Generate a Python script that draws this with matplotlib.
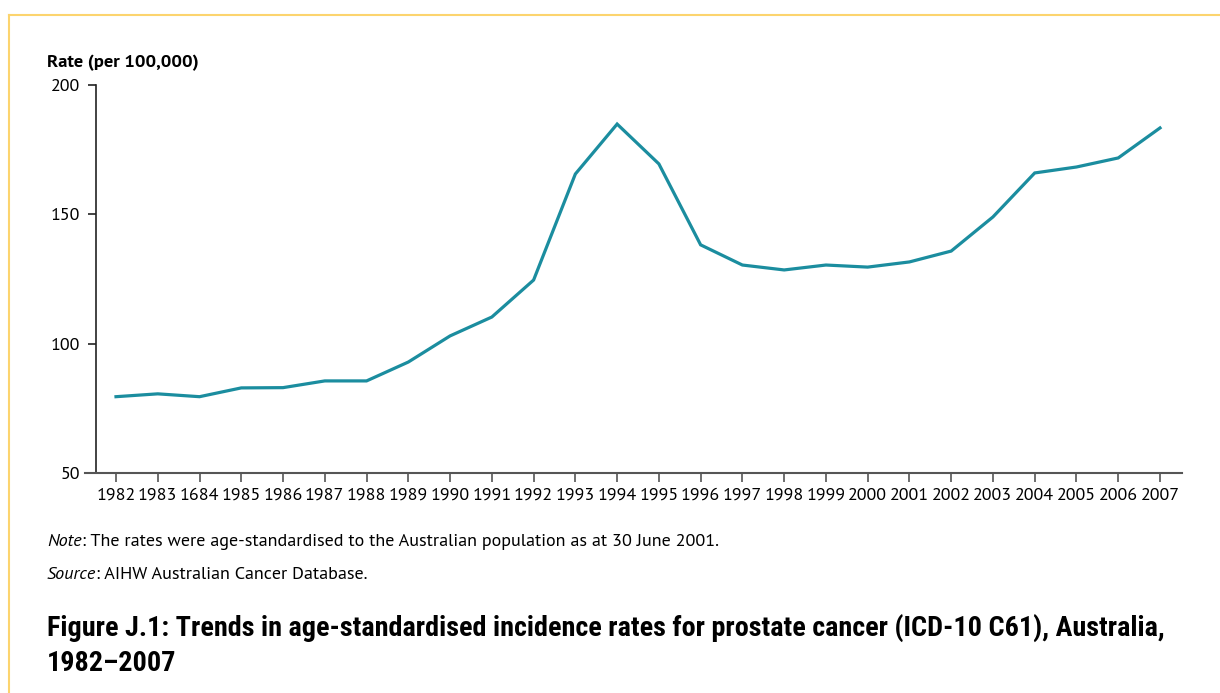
import matplotlib.pyplot as plt
from matplotlib.lines import Line2D

years = list(range(1982, 2008))
year_labels = ['1982', '1983', '1684', '1985', '1986', '1987', '1988', '1989', '1990',
               '1991', '1992', '1993', '1994', '1995', '1996', '1997', '1998', '1999',
               '2000', '2001', '2002', '2003', '2004', '2005', '2006', '2007']
rate = [79.5, 80.6, 79.5, 82.9, 83.0, 85.6, 85.6, 92.9, 103.0, 110.3, 124.6, 165.6, 184.9,
        169.5, 138.2, 130.4, 128.5, 130.4, 129.6, 131.6, 135.8, 149.0, 166.0, 168.3, 171.8, 183.4]
y_ticks = [50, 100, 150, 200]

note_txt = ': The rates were age-standardised to the Australian population as at 30 June 2001.'
source_txt = ': AIHW Australian Cancer Database.'
title_1 = ('Figure J.1: Trends in age-standardised incidence rates for prostate cancer '
           '(ICD-10 C61), Australia,')
title_2 = '1982\u20132007'

body = ['PT Sans', 'Open Sans', 'DejaVu Sans']
head = ['Roboto Condensed', 'Roboto', 'DejaVu Sans']
plt.rcParams['font.family'] = body

W, H = 1220, 693
fig = plt.figure(figsize=(W / 100, H / 100), dpi=100)

# yellow frame (top and left)
fig.add_artist(Line2D([9 / W, 1.0], [1 - 15 / H, 1 - 15 / H], color='#fcd46e', lw=1.5))
fig.add_artist(Line2D([9 / W, 9 / W], [0, 1 - 15 / H], color='#fcd46e', lw=1.5))

ax = fig.add_axes([85 / W, 1 - 473 / H, (1182 - 85) / W, (473 - 85) / H])
ax.plot(years, rate, color='#1b8d9f', lw=2.3, solid_joinstyle='miter')

step = (1160 - 116) / 25
ax.set_xlim(1982 - (116 - 85) / step, 2007 + (1182 - 1160) / step)
ax.set_ylim(50, 200)
ax.set_xticks(years)
ax.set_xticklabels(year_labels)
ax.set_yticks(y_ticks)

for s in ['top', 'right']:
    ax.spines[s].set_visible(False)
ax.spines['left'].set_position(('data', 1982 - (116 - 96) / step))
ax.spines['left'].set_color('#222222')
ax.spines['bottom'].set_color('#555555')
ax.spines['left'].set_linewidth(1.2)
ax.spines['bottom'].set_linewidth(1.5)
ax.tick_params(axis='x', length=6.5, width=1.2, color='#555555', labelsize=13, pad=4)
ax.tick_params(axis='y', length=6, width=1.2, color='#222222', labelsize=13, pad=5.5)

fig.text(47 / W, 1 - 67 / H, 'Rate (per 100,000)', fontsize=13.3, fontweight='bold',
         va='baseline', ha='left')

t1 = fig.text(47 / W, 1 - 546 / H, 'Note', fontsize=12, style='italic', va='baseline')
a1 = ax.annotate(note_txt, xy=(1, 0), xycoords=t1, fontsize=12, va='bottom',
                 annotation_clip=False)
t2 = fig.text(47 / W, 1 - 579 / H, 'Source', fontsize=12, style='italic', va='baseline')
a2 = ax.annotate(source_txt, xy=(1, 0), xycoords=t2, fontsize=12, va='bottom',
                 annotation_clip=False)

h1 = fig.text(47 / W, 1 - 636 / H, title_1, family=head, fontsize=20, fontweight='bold',
              va='baseline', ha='left')
h2 = fig.text(47 / W, 1 - 671 / H, title_2, family=head, fontsize=20, fontweight='bold',
              va='baseline', ha='left')

# size the footnote and title fonts so the lines span the reference widths
fig.canvas.draw()
r = fig.canvas.get_renderer()
w_note = a1.get_window_extent(r).x1 - t1.get_window_extent(r).x0
k = (720 - 47) / w_note
for t in (t1, a1, t2, a2):
    t.set_fontsize(12 * k)
w_head = h1.get_window_extent(r).width
k = (1158 - 47) / w_head
for t in (h1, h2):
    t.set_fontsize(20 * k)

fig.savefig('out.png', dpi=100)
